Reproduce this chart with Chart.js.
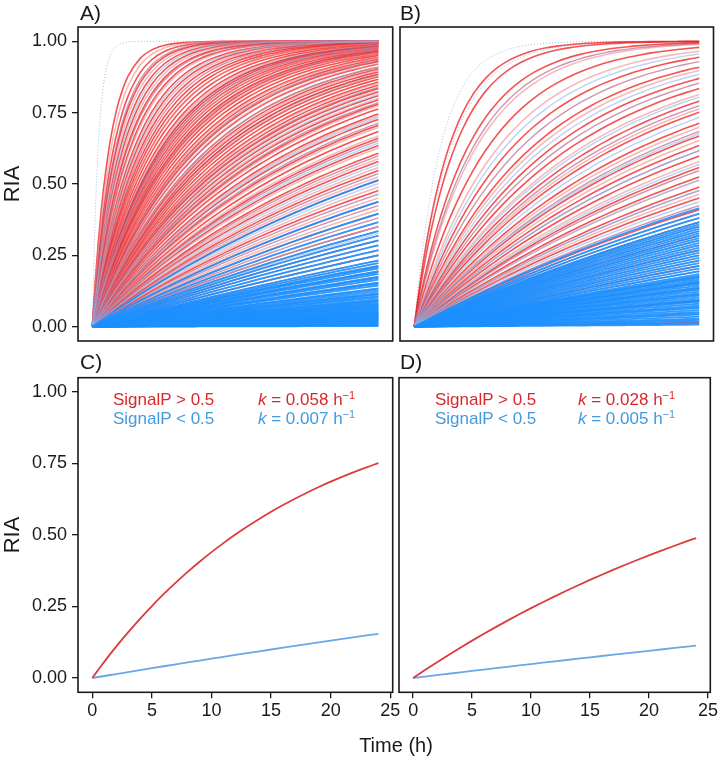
<!DOCTYPE html>
<html>
<head>
<meta charset="utf-8">
<script src="https://cdn.jsdelivr.net/npm/chart.js@4.4.1/dist/chart.umd.min.js"></script>
<style>
  body { margin: 0; background: #fff; font-family: "Liberation Sans", Arial, sans-serif; color: #1a1a1a; }
  #wrap { position: relative; width: 720px; height: 758px; overflow: hidden; }
  canvas { position: absolute; left: 0; top: 0; }
  .lbl { position: absolute; font-size: 21px; line-height: 24px; white-space: nowrap; }
  .leg { position: absolute; font-size: 17px; line-height: 19px; white-space: nowrap; }
  .leg sup { font-size: 11px; vertical-align: 6px; line-height: 0; }
  .red { color: #d8282d; }
  .blue { color: #4599dc; }
</style>
</head>
<body>
<div id="wrap">
  <canvas id="panelA" width="720" height="758"></canvas>
  <canvas id="panelB" width="720" height="758"></canvas>
  <canvas id="panelC" width="720" height="758"></canvas>
  <canvas id="panelD" width="720" height="758"></canvas>

  <div class="lbl" style="left:80px; top:1px;">A)</div>
  <div class="lbl" style="left:400px; top:1px;">B)</div>
  <div class="lbl" style="left:80px; top:350px;">C)</div>
  <div class="lbl" style="left:400px; top:350px;">D)</div>

  <div class="leg red" style="left:113px; top:390px;">SignalP &gt; 0.5</div>
  <div class="leg blue" style="left:113px; top:409px;">SignalP &lt; 0.5</div>
  <div class="leg red" style="left:258px; top:390px;"><i>k</i> = 0.058 h<sup>−1</sup></div>
  <div class="leg blue" style="left:258px; top:409px;"><i>k</i> = 0.007 h<sup>−1</sup></div>

  <div class="leg red" style="left:435px; top:390px;">SignalP &gt; 0.5</div>
  <div class="leg blue" style="left:435px; top:409px;">SignalP &lt; 0.5</div>
  <div class="leg red" style="left:578px; top:390px;"><i>k</i> = 0.028 h<sup>−1</sup></div>
  <div class="leg blue" style="left:578px; top:409px;"><i>k</i> = 0.005 h<sup>−1</sup></div>

  <div class="lbl" style="left:0; width:792px; text-align:center; top:733px; font-size:20px;">Time (h)</div>
</div>

<script>
// axis ticks
const tickHours = [0, 5, 10, 15, 20, 25];
const tickRIA = [0, 0.25, 0.5, 0.75, 1];

// sampling times (h) for each incorporation curve
const sampleHours = [0, 0.25, 0.5, 0.75, 1, 1.5, 2, 2.5, 3, 4, 5, 6, 7, 8, 9, 10,
  11, 12, 13, 14, 15, 16, 17, 18, 19, 20, 21, 22, 23, 24];

// Panel A: rate constants k (1/h) of individual proteins, grouped by SignalP colour
const kA_red = [0.70, 0.55, 0.48, 0.42, 0.38, 0.34, 0.31, 0.28, 0.26, 0.24, 0.22, 0.21,
  0.20, 0.19, 0.18, 0.17, 0.165, 0.16, 0.155, 0.15, 0.145, 0.14, 0.135, 0.13, 0.125,
  0.12, 0.115, 0.11, 0.105, 0.10, 0.097, 0.093, 0.09, 0.087, 0.084, 0.081, 0.078,
  0.075, 0.072, 0.069, 0.066, 0.063, 0.06, 0.057, 0.054, 0.051, 0.048, 0.045, 0.042,
  0.039, 0.036, 0.033, 0.03, 0.027, 0.024, 0.021, 0.018, 0.015, 0.012];
const kA_pink = [0.62, 0.45, 0.36, 0.30, 0.25, 0.20, 0.175, 0.15, 0.132, 0.118, 0.106,
  0.095, 0.088, 0.08, 0.073, 0.067, 0.062, 0.056, 0.05, 0.046, 0.041, 0.037, 0.034,
  0.031, 0.028, 0.025, 0.022, 0.019, 0.016, 0.013, 0.010, 0.008];
const kA_mauve = [0.50, 0.33, 0.23, 0.17, 0.138, 0.112, 0.09, 0.076, 0.064, 0.052,
  0.044, 0.038, 0.032, 0.026, 0.023, 0.020, 0.017, 0.014, 0.011, 0.009, 0.007, 0.005];
const kA_lightblue = [0.40, 0.27, 0.16, 0.10, 0.07, 0.055, 0.043, 0.035, 0.029, 0.024,
  0.021, 0.018, 0.0165, 0.015, 0.013, 0.012, 0.0105, 0.009, 0.008, 0.007, 0.006, 0.005];
const kA_blue = [0.03, 0.024, 0.021, 0.019, 0.017, 0.016, 0.015, 0.014, 0.013, 0.012,
  0.011, 0.0105, 0.01, 0.0098, 0.0095, 0.009, 0.0088, 0.0085, 0.008, 0.0078, 0.0075,
  0.007, 0.0068, 0.0065, 0.006, 0.0058, 0.0055, 0.0052, 0.005, 0.0047, 0.0045, 0.0042,
  0.004, 0.0039, 0.0037, 0.0035, 0.0034, 0.0032, 0.0031, 0.0029, 0.0028, 0.0026,
  0.0025, 0.0023, 0.0022, 0.0021, 0.002, 0.0019, 0.0018, 0.0017, 0.0016, 0.0015,
  0.0014, 0.0013, 0.0012, 0.0011, 0.001, 0.0009, 0.0008, 0.0007, 0.0006, 0.0005,
  0.0004, 0.0003, 0.0002, 0.0001];
const kA_dotted = [2.0];

// Panel B
const kB_red = [0.34, 0.29, 0.22, 0.16, 0.12, 0.10, 0.085, 0.075, 0.065, 0.058, 0.052,
  0.046, 0.042, 0.038, 0.034, 0.031, 0.028, 0.025, 0.022, 0.019, 0.016, 0.013, 0.010,
  0.007, 0.004, 0.0006];
const kB_pink = [0.19, 0.14, 0.095, 0.07, 0.06, 0.05, 0.044, 0.036, 0.03, 0.026, 0.021,
  0.017, 0.014, 0.011, 0.008, 0.006];
const kB_mauve = [0.20, 0.11, 0.08, 0.062, 0.048, 0.04, 0.033, 0.027, 0.023, 0.02,
  0.018, 0.015, 0.012, 0.009, 0.006, 0.004];
const kB_lightblue = [0.13, 0.09, 0.068, 0.055, 0.047, 0.04, 0.035, 0.03, 0.027, 0.024,
  0.021, 0.019, 0.017, 0.015, 0.013, 0.011, 0.009];
const kB_blue = [0.0224, 0.021, 0.02, 0.019, 0.0185, 0.018, 0.0175, 0.017, 0.0165,
  0.016, 0.0155, 0.015, 0.0145, 0.014, 0.0135, 0.013, 0.0125, 0.012, 0.0115, 0.011,
  0.0105, 0.01, 0.0095, 0.009, 0.0085, 0.0082, 0.008, 0.0078, 0.0075, 0.0072, 0.007,
  0.0068, 0.0065, 0.0062, 0.006, 0.0058, 0.0055, 0.0052, 0.005, 0.0048, 0.0045,
  0.0042, 0.004, 0.0038, 0.0035, 0.0032, 0.003, 0.0028, 0.0025, 0.0022, 0.002,
  0.0018, 0.0015, 0.0012, 0.001, 0.0008, 0.0005, 0.0003];
const kB_dotted = [0.45, 0.32];

// Panels C and D: fitted group rates [SignalP > 0.5, SignalP < 0.5]
const fitK_C = [0.058, 0.007];
const fitK_D = [0.028, 0.005];

const FONT = "'Liberation Sans', Arial, sans-serif";
const INK = "#1a1a1a";

function curve(k) {
  return sampleHours.map(t => ({ x: t, y: 1 - Math.exp(-k * t) }));
}

function groupSets(ks, color, width, dash) {
  return ks.map(k => ({
    data: curve(k),
    borderColor: color,
    borderWidth: width,
    borderDash: dash || [],
    pointRadius: 0,
    fill: false,
    cubicInterpolationMode: "monotone"
  }));
}

// Draw the black box round the plotting area
const framePlugin = {
  id: "frame",
  afterDraw(chart) {
    const { ctx, chartArea: a } = chart;
    ctx.save();
    ctx.strokeStyle = INK;
    ctx.lineWidth = 1.6;
    ctx.strokeRect(a.left, a.top, a.right - a.left, a.bottom - a.top);
    ctx.restore();
  }
};

function makeScales(showX, showY) {
  return {
    x: {
      type: "linear",
      min: -1.2,
      max: 25.2,
      display: showX,
      afterBuildTicks: s => { s.ticks = tickHours.map(v => ({ value: v })); },
      afterFit: s => { s.height = showX ? 30 : 0; },
      border: { display: false },
      grid: { drawOnChartArea: false, drawTicks: true, tickLength: 6, color: INK, lineWidth: 1.3 },
      ticks: { color: INK, font: { family: FONT, size: 18 }, padding: 2, maxRotation: 0, autoSkip: false }
    },
    y: {
      type: "linear",
      min: -0.05,
      max: 1.05,
      display: showY,
      afterBuildTicks: s => { s.ticks = tickRIA.map(v => ({ value: v })); },
      afterFit: s => { s.width = showY ? 78 : 0; },
      border: { display: false },
      grid: { drawOnChartArea: false, drawTicks: true, tickLength: 6, color: INK, lineWidth: 1.3 },
      ticks: { color: INK, font: { family: FONT, size: 18 }, padding: 5, callback: v => v.toFixed(2) },
      title: { display: true, text: "RIA", color: INK, font: { family: FONT, size: 22 }, padding: 0 }
    }
  };
}

function renderPanel(canvasId, datasets, padding, showX, showY) {
  const ctx = document.getElementById(canvasId).getContext("2d");
  return new Chart(ctx, {
    type: "line",
    data: { datasets },
    options: {
      responsive: false,
      animation: false,
      events: [],
      layout: { padding },
      plugins: { legend: { display: false }, tooltip: { enabled: false } },
      scales: makeScales(showX, showY)
    },
    plugins: [framePlugin]
  });
}

const RED = "rgba(240, 25, 25, 0.75)";
const PINK = "rgba(238, 140, 140, 0.6)";
const MAUVE = "rgba(170, 80, 125, 0.6)";
const LIGHTBLUE = "rgba(140, 180, 235, 0.6)";
const BLUE = "rgba(30, 144, 255, 0.9)";
const DOTTED = "rgba(150, 185, 235, 0.9)";

const setsA = [
  ...groupSets(kA_blue, BLUE, 1.8),
  ...groupSets(kA_lightblue, LIGHTBLUE, 1.4),
  ...groupSets(kA_mauve, MAUVE, 1.4),
  ...groupSets(kA_pink, PINK, 1.6),
  ...groupSets(kA_red, RED, 1.6),
  ...groupSets(kA_dotted, DOTTED, 1, [1, 2])
];
const setsB = [
  ...groupSets(kB_blue, BLUE, 1.8),
  ...groupSets(kB_lightblue, LIGHTBLUE, 1.4),
  ...groupSets(kB_mauve, MAUVE, 1.4),
  ...groupSets(kB_pink, PINK, 1.6),
  ...groupSets(kB_red, RED, 1.6),
  ...groupSets(kB_dotted, DOTTED, 1, [1, 2])
];
const fitColors = ["#dd3b3f", "#69a8e6"];
const setsC = fitK_C.map((k, i) => groupSets([k], fitColors[i], 1.8)[0]);
const setsD = fitK_D.map((k, i) => groupSets([k], fitColors[i], 1.8)[0]);

renderPanel("panelA", setsA, { left: 0, top: 27, right: 327.3, bottom: 417 }, false, true);
renderPanel("panelB", setsB, { left: 400, top: 27, right: 6.5, bottom: 417 }, false, false);
renderPanel("panelC", setsC, { left: 0, top: 377.7, right: 327.3, bottom: 35.7 }, true, true);
renderPanel("panelD", setsD, { left: 399, top: 377.7, right: 6.7, bottom: 35.7 }, true, false);
</script>
</body>
</html>
